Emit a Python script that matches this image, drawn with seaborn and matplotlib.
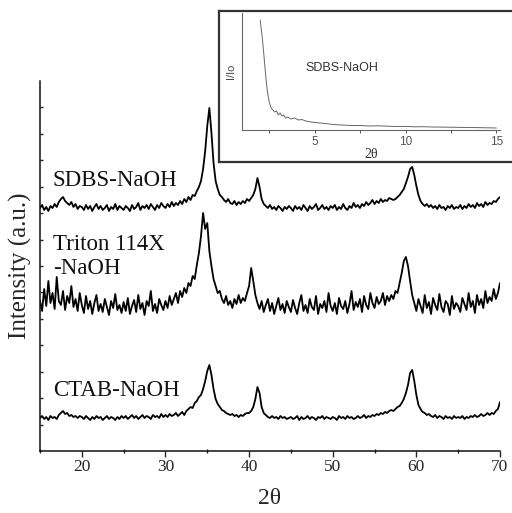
import numpy as np
import pandas as pd
import matplotlib
matplotlib.use("Agg")
import matplotlib.pyplot as plt
import seaborn as sns

# 2-theta grid of the main patterns (15..70, step 0.25)
two_theta = np.arange(15, 70.001, 0.25)

# intensities (stacked, arbitrary units)
ctab = [33, 35, 32, 34, 31, 35, 33, 34, 32, 36, 38, 40, 37, 38, 35, 36, 34, 35, 33, 35,
        34, 32, 35, 33, 31, 34, 32, 35, 33, 34, 31, 33, 35, 32, 34, 33, 31, 34, 32, 35,
        33, 35, 32, 34, 36, 33, 35, 32, 34, 36, 33, 35, 34, 32, 36, 34, 35, 33, 37, 34,
        36, 34, 37, 35, 36, 38, 35, 37, 39, 36, 40, 42, 44, 43, 48, 50, 54, 56, 62, 70,
        80, 86, 76, 62, 52, 47, 44, 41, 40, 38, 37, 36, 37, 35, 36, 34, 36, 35, 37, 38,
        38, 40, 44, 52, 64, 58, 44, 38, 36, 34, 33, 35, 33, 34, 32, 35, 33, 34, 32, 33,
        34, 32, 33, 35, 31, 34, 32, 33, 35, 32, 34, 33, 31, 34, 33, 35, 32, 34, 33, 32,
        34, 33, 31, 35, 33, 34, 32, 35, 33, 34, 32, 33, 35, 33, 34, 36, 33, 35, 34, 36,
        35, 37, 36, 38, 37, 39, 38, 40, 41, 40, 42, 44, 45, 48, 52, 58, 66, 78, 81, 70,
        56, 46, 42, 39, 38, 36, 37, 35, 34, 36, 33, 35, 34, 32, 35, 33, 34, 32, 35, 33,
        34, 33, 35, 32, 34, 33, 35, 34, 36, 34, 35, 37, 35, 36, 38, 36, 38, 37, 40, 42,
        49]

triton = [150, 140, 162, 145, 170, 148, 158, 142, 174, 150, 146, 160, 141, 155, 148, 165, 144, 152, 140, 158,
          146, 138, 155, 142, 150, 137, 148, 156, 140, 147, 139, 152, 144, 136, 150, 143, 157, 141, 146, 138,
          149, 140, 153, 137, 145, 151, 139, 156, 142, 148, 136, 150, 145, 160, 140, 147, 138, 152, 146, 141,
          150, 143, 155, 146, 152, 158, 148, 160, 154, 163, 158, 168, 165, 175, 172, 186, 198, 215, 238, 222,
          228, 200, 185, 172, 165, 158, 160, 152, 148, 155, 146, 150, 143, 152, 147, 156, 148, 153, 150, 158,
          165, 183, 170, 156, 148, 142, 150, 139, 146, 152, 140, 148, 137, 145, 153, 141, 147, 138, 150, 144,
          139, 151, 143, 137, 148, 156, 140, 146, 138, 152, 144, 141, 155, 137, 147, 143, 150, 139, 158, 145,
          140, 148, 137, 153, 145, 142, 150, 138, 147, 160, 141, 149, 144, 152, 139, 155, 146, 142, 158, 148,
          143, 154, 147, 150, 158, 146, 155, 150, 156, 152, 160, 158, 168, 178, 190, 194, 185, 170, 156, 148,
          140, 152, 145, 138, 156, 143, 149, 137, 153, 146, 141, 157, 144, 139, 150, 147, 136, 155, 142, 148,
          145, 139, 153, 147, 141, 158, 144, 150, 138, 156, 146, 152, 143, 160, 148, 154, 150, 162, 152, 158,
          168]

sdbs = [243, 246, 241, 244, 240, 245, 243, 247, 244, 249, 252, 254, 250, 248, 246, 249, 244, 247, 242, 245,
        244, 241, 246, 242, 245, 240, 244, 247, 242, 245, 241, 243, 246, 240, 244, 242, 247, 241, 245, 243,
        241, 245, 243, 240, 246, 242, 244, 248, 241, 245, 243, 246, 242, 247, 244, 241, 246, 243, 248, 245,
        243, 247, 244, 249, 245, 248, 246, 250, 247, 252, 249, 254, 251, 256, 255, 260, 264, 270, 282, 300,
        325, 343, 318, 288, 270, 262, 256, 254, 251, 249, 252, 248, 247, 250, 246, 249, 247, 250, 248, 252,
        250, 253, 256, 262, 273, 264, 252, 247, 245, 243, 246, 242, 244, 241, 245, 243, 240, 244, 242, 245,
        243, 240, 245, 242, 244, 241, 246, 243, 240, 245, 242, 244, 247, 241, 243, 246, 242, 244, 241, 245,
        243, 246, 241, 244, 242, 247, 243, 241, 245, 243, 248, 244, 246, 243, 247, 245, 249, 246, 248, 251,
        247, 250, 248, 252, 249, 251, 250, 253, 252, 251, 252, 254, 256, 259, 262, 268, 274, 282, 284, 276,
        265, 256, 250, 247, 245, 247, 244, 246, 243, 245, 242, 246, 243, 244, 241, 245, 243, 246, 242, 244,
        243, 246, 242, 245, 243, 247, 244, 246, 243, 248, 245, 247, 244, 249, 246, 248, 247, 250, 249, 252,
        254]

# low-angle pattern of SDBS-NaOH (inset)
inset_theta = [2.0, 2.1, 2.2, 2.3, 2.4, 2.5, 2.6, 2.7, 2.8, 2.9, 3.0, 3.1, 3.2, 3.3, 3.4, 3.5,
               3.7, 3.9, 4.1, 4.3, 4.5, 4.8, 5.0, 5.3, 5.6, 6.0, 6.5, 7.0, 7.5, 8.0, 8.5, 9.0,
               9.5, 10.0, 10.5, 11.0, 11.5, 12.0, 12.5, 13.0, 13.5, 14.0, 14.5, 15.0]
inset_int = [110, 95, 76, 55, 38, 28, 22, 20, 18, 19, 15, 17, 14, 15, 12, 13,
             11, 12, 10, 10.5, 9, 8, 7.5, 7, 6.5, 5.5, 5, 4.5, 4.5, 4, 4.2, 3.8,
             3.5, 3.6, 3.2, 3.3, 3, 2.9, 2.8, 2.6, 2.5, 2.4, 2.2, 2.0]

df = pd.DataFrame({"2theta": np.tile(two_theta, 3),
                   "I": ctab + triton + sdbs,
                   "sample": ["CTAB"] * len(ctab) + ["Triton"] * len(triton) + ["SDBS"] * len(sdbs)})
inset_df = pd.DataFrame({"2theta": inset_theta, "I": inset_int})

sns.set_style("ticks")
plt.rcParams["font.family"] = ["Liberation Serif", "DejaVu Serif"]

fig = plt.figure(figsize=(5.12, 5.13), dpi=100)
ax = fig.add_axes([40 / 512, 1 - 451 / 513, 460 / 512, 370 / 513])

for name in ["CTAB", "Triton", "SDBS"]:
    sns.lineplot(data=df[df["sample"] == name], x="2theta", y="I", ax=ax,
                 color="black", lw=1.3, estimator=None, sort=False)

ax.set_xlim(15, 70)
ax.set_ylim(0, 370)
ax.set_xticks([20, 30, 40, 50, 60, 70])
ax.set_xticks([15, 25, 35, 45, 55, 65], minor=True)
ax.set_yticks(np.arange(1, 14) * 370 / 14)
ax.set_yticklabels([])
ax.tick_params(axis="x", which="major", direction="out", length=4, width=1, labelsize=12.5, pad=2)
ax.tick_params(axis="x", which="minor", direction="inout", length=3, width=1)
ax.tick_params(axis="y", direction="in", length=2.5, width=1)
sns.despine(ax=ax)
for s in ["left", "bottom"]:
    ax.spines[s].set_linewidth(1.1)
    ax.spines[s].set_color("#111111")
ax.set_xlabel("2θ", fontsize=17, labelpad=9)
ax.set_ylabel("Intensity (a.u.)", fontsize=18, labelpad=2)

ax.text(16.55, 270, "SDBS-NaOH", fontsize=16.5, va="center", ha="left", color="#111111")
ax.text(16.55, 206, "Triton 114X", fontsize=16.5, va="center", ha="left", color="#111111")
ax.text(16.55, 183, "-NaOH", fontsize=16.5, va="center", ha="left", color="#111111")
ax.text(16.55, 61, "CTAB-NaOH", fontsize=16.5, va="center", ha="left", color="#111111")

# inset frame
frame = fig.add_axes([219 / 512, 1 - 162 / 513, 300 / 512, 151 / 513])
frame.set_xticks([])
frame.set_yticks([])
for s in frame.spines.values():
    s.set_linewidth(1.6)
    s.set_color("#333333")

ins = fig.add_axes([242 / 512, 1 - 130 / 513, 258 / 512, 117 / 513])
sns.lineplot(data=inset_df, x="2theta", y="I", ax=ins, color="#666666", lw=0.7,
             estimator=None, sort=False)
ins.set_xlim(1.0, 15.2)
ins.set_ylim(0, 117)
ins.set_xticks([5, 10, 15])
ins.set_xticks([2.5, 7.5, 12.5], minor=True)
ins.set_yticks([])
ins.tick_params(axis="x", which="both", direction="out", length=2.5, width=0.7,
                colors="#555555", labelsize=8.5, pad=2)
for lab in ins.get_xticklabels():
    lab.set_family(["Liberation Sans", "DejaVu Sans"])
sns.despine(ax=ins)
for s in ["left", "bottom"]:
    ins.spines[s].set_linewidth(0.8)
    ins.spines[s].set_color("#666666")
ins.set_xlabel("2θ", fontsize=10, labelpad=0, color="#333333")
ins.set_ylabel("I/Io", fontsize=8, labelpad=4, color="#444444",
               family=["Liberation Sans", "DejaVu Sans"])
ins.text(6.5, 62, "SDBS-NaOH", fontsize=9, ha="center", va="center", color="#333333",
         family=["Liberation Sans", "DejaVu Sans"])

fig.savefig("out.png", dpi=100)
